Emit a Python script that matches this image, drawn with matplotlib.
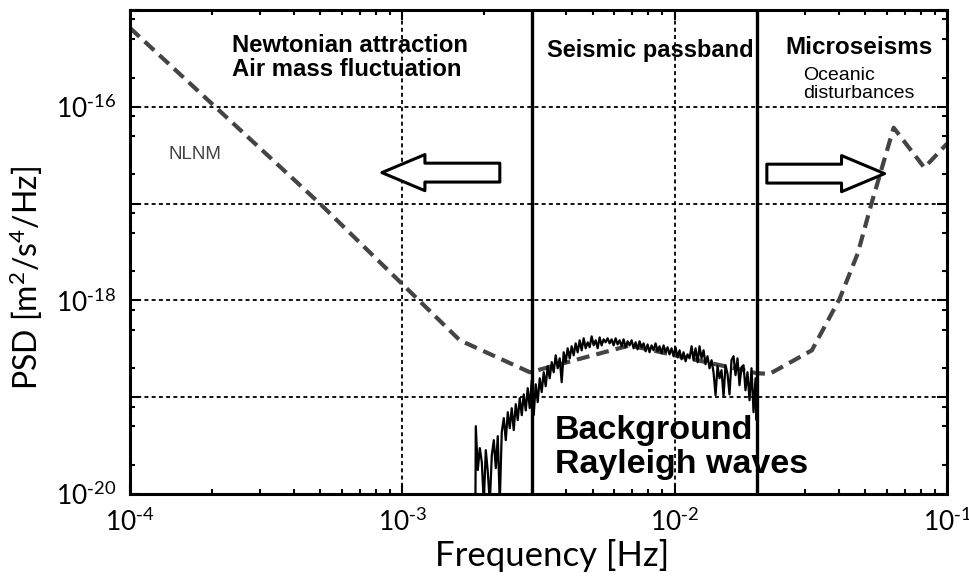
import math
import matplotlib
matplotlib.use('Agg')
import matplotlib.pyplot as plt
from matplotlib.ticker import FixedLocator, FuncFormatter, LogLocator, NullFormatter

plt.rcParams['font.family'] = ['Lato', 'DejaVu Sans']
plt.rcParams['mathtext.default'] = 'regular'

# NLNM (dashed), frequency in Hz, PSD in m^2/s^4/Hz
nlnm_f = [1e-4, 4.98e-4, 1.626e-3, 2.94e-3, 6.84e-3, 2.0e-2, 2.23e-2, 3.19e-2,
          4.04e-2, 4.70e-2, 5.28e-2, 6.37e-2, 8.26e-2, 1e-1]
nlnm_p = [6.52e-16, 1e-17, 3.87e-19, 1.81e-19, 3.43e-19, 1.77e-19, 1.74e-19, 3.05e-19,
          1.05e-18, 3.05e-18, 1e-17, 6.08e-17, 2.35e-17, 4.16e-17]

# observed background spectrum: frequency in mHz, PSD in 1e-19 m^2/s^4/Hz
bg_mhz = [1.855, 1.861, 1.893, 1.925, 1.958, 1.991, 2.025, 2.060, 2.095, 2.131, 2.167,
          2.204, 2.241, 2.279, 2.318, 2.358, 2.398, 2.439, 2.480, 2.522, 2.565, 2.609,
          2.653, 2.699, 2.745, 2.791, 2.839, 2.887, 2.936, 2.986, 3.037, 3.089, 3.141,
          3.195, 3.249, 3.305, 3.361, 3.418, 3.476, 3.536, 3.596, 3.657, 3.719, 3.783,
          3.847, 3.913, 3.980, 4.047, 4.116, 4.186, 4.258, 4.330, 4.404, 4.479, 4.555,
          4.633, 4.712, 4.792, 4.874, 4.957, 5.041, 5.127, 5.214, 5.303, 5.393, 5.485,
          5.578, 5.673, 5.770, 5.868, 5.968, 6.070, 6.173, 6.278, 6.385, 6.494, 6.604,
          6.717, 6.831, 6.948, 7.066, 7.186, 7.309, 7.433, 7.560, 7.689, 7.820, 7.953,
          8.088, 8.226, 8.366, 8.509, 8.654, 8.801, 8.951, 9.103, 9.259, 9.416, 9.577,
          9.740, 9.906, 10.07, 10.25, 10.42, 10.60, 10.78, 10.97, 11.15, 11.34, 11.54,
          11.73, 11.93, 12.14, 12.34, 12.55, 12.77, 12.98, 13.20, 13.43, 13.66, 13.89,
          14.13, 14.37, 14.61, 14.86, 15.12, 15.37, 15.64, 15.90, 16.17, 16.45, 16.73,
          17.01, 17.30, 17.60, 17.90, 18.20, 18.51, 18.83, 19.15, 19.48, 19.81, 20.0, 20.03]
bg_val = [0.08, 0.502, 0.177, 0.298, 0.214, 0.08, 0.284, 0.169, 0.08, 0.252, 0.360,
          0.185, 0.396, 0.08, 0.436, 0.608, 0.360, 0.70, 0.479, 0.77, 0.457, 0.847,
          0.58, 0.977, 0.652, 1.07, 0.73, 1.24, 0.77, 1.50, 0.652, 1.36, 0.89,
          1.57, 1.13, 1.81, 1.30, 2.09, 1.57, 2.30, 1.81, 2.71, 1.99, 2.52,
          1.43, 2.91, 2.30, 3.20, 2.52, 3.36, 2.71, 3.60, 2.91, 3.87, 3.05,
          4.06, 3.20, 3.69, 3.28, 4.25, 3.43, 3.87, 3.20, 4.15, 3.43, 3.96,
          3.69, 4.06, 3.60, 3.96, 3.43, 4.06, 3.51, 3.87, 3.36, 3.96, 3.28,
          3.78, 3.43, 3.87, 3.20, 3.69, 3.12, 3.78, 3.28, 3.60, 2.98, 3.51,
          2.91, 3.43, 3.05, 3.60, 2.98, 3.36, 2.84, 3.43, 2.91, 3.28, 2.77,
          3.20, 2.65, 3.28, 2.58, 3.05, 2.46, 2.91, 2.35, 2.77, 2.52, 3.36,
          2.41, 3.20, 2.30, 3.36, 2.52, 3.05, 2.19, 2.65, 1.99, 2.41, 1.81,
          1.05, 2.09, 1.57, 1.90, 1.02, 2.14, 1.73, 1.07, 2.41, 2.65, 1.69,
          2.52, 1.33, 2.04, 2.14, 1.18, 1.81, 0.93, 1.99, 0.70, 1.57, 0.58, 1.05]

band_edges = [3e-3, 2e-2]
grid_y = [1e-16, 1e-17, 1e-18, 1e-19]
grid_x = [1e-3, 1e-2]

fig = plt.figure(figsize=(9.7, 5.8), dpi=100)
ax = fig.add_axes([130/970, 86/580, 817/970, 484/580])
ax.set_xscale('log')
ax.set_yscale('log')
ax.set_xlim(1e-4, 1e-1)
ax.set_ylim(1e-20, 1e-15)

for g in grid_y:
    ax.axhline(g, color='black', lw=1.3, ls=(0, (2.2, 1.8)), zorder=1)
for g in grid_x:
    ax.axvline(g, color='black', lw=1.3, ls=(0, (2.2, 1.8)), zorder=1)
for b in band_edges:
    ax.axvline(b, color='black', lw=2.4, zorder=4)

ax.plot(nlnm_f, nlnm_p, color='#444444', lw=3, ls=(0, (3.1, 1.7)), zorder=2)
ax.plot([m * 1e-3 for m in bg_mhz], [v * 1e-19 for v in bg_val], color='black', lw=1.6, zorder=3)

# arrows
aprops = dict(arrowstyle='simple,head_length=1.55,head_width=1.3,tail_width=0.68',
              fc='white', ec='black', lw=2.2, mutation_scale=20, shrinkA=0, shrinkB=0)
ax.annotate('', xy=(8.41e-4, 2.09e-17), xytext=(2.28e-3, 2.09e-17), arrowprops=aprops, zorder=5)
ax.annotate('', xy=(5.90e-2, 2.04e-17), xytext=(2.18e-2, 2.04e-17), arrowprops=aprops, zorder=5)

sans = ['Liberation Sans', 'DejaVu Sans']
bold = dict(family=sans, fontweight='bold')
fig.text(232/970, 1-45/580, 'Newtonian attraction', fontsize=17.2, va='center', ha='left', **bold)
fig.text(232/970, 1-70/580, 'Air mass fluctuation', fontsize=17.2, va='center', ha='left', **bold)
fig.text(547/970, 1-50/580, 'Seismic passband', fontsize=17, va='center', ha='left', **bold)
fig.text(785/970, 1-48/580, 'Microseisms', fontsize=17.5, va='center', ha='left', **bold)
fig.text(803/970, 1-75/580, 'Oceanic', fontsize=14, va='center', ha='left', family=sans)
fig.text(803/970, 1-93/580, 'disturbances', fontsize=14, va='center', ha='left', family=sans)
fig.text(169/970, 1-155/580, 'NLNM', fontsize=13.5, va='center', ha='left', color='#444444',
         family=sans)
fig.text(555/970, 1-430/580, 'Background', fontsize=24.5, va='center', ha='left', **bold)
fig.text(555/970, 1-465/580, 'Rayleigh waves', fontsize=24.5, va='center', ha='left', **bold)


def pow_label(v):
    e = int(round(math.log10(v)))
    return r'$10^{\text{-}%d}$' % abs(e)


# ticks
ax.yaxis.set_major_locator(FixedLocator([1e-20, 1e-19, 1e-18, 1e-17, 1e-16, 1e-15]))
ax.yaxis.set_minor_locator(LogLocator(base=10, subs=(2, 5, 8)))
ax.yaxis.set_minor_formatter(NullFormatter())
ax.yaxis.set_major_formatter(FuncFormatter(
    lambda v, p: pow_label(v) if int(round(math.log10(v))) in (-16, -18, -20) else ''))
ax.xaxis.set_major_locator(FixedLocator([1e-4, 1e-3, 1e-2, 1e-1]))
ax.xaxis.set_major_formatter(FuncFormatter(lambda v, p: pow_label(v)))
ax.xaxis.set_minor_locator(LogLocator(base=10, subs=tuple(range(2, 10))))
ax.xaxis.set_minor_formatter(NullFormatter())

ax.tick_params(which='both', direction='in', top=True, right=True, width=1.5)
ax.tick_params(which='major', length=7, labelsize=19, pad=10)
ax.tick_params(which='minor', length=3.5)
for s in ax.spines.values():
    s.set_linewidth(2.2)

fig.text(552/970, 1-555/580, 'Frequency [Hz]', fontsize=25, ha='center', va='center')
fig.text(26/970, 1-278/580, 'PSD [m$^2$/s$^4$/Hz]', fontsize=23, ha='center', va='center',
         rotation=90)

fig.savefig('out.png', dpi=100)
